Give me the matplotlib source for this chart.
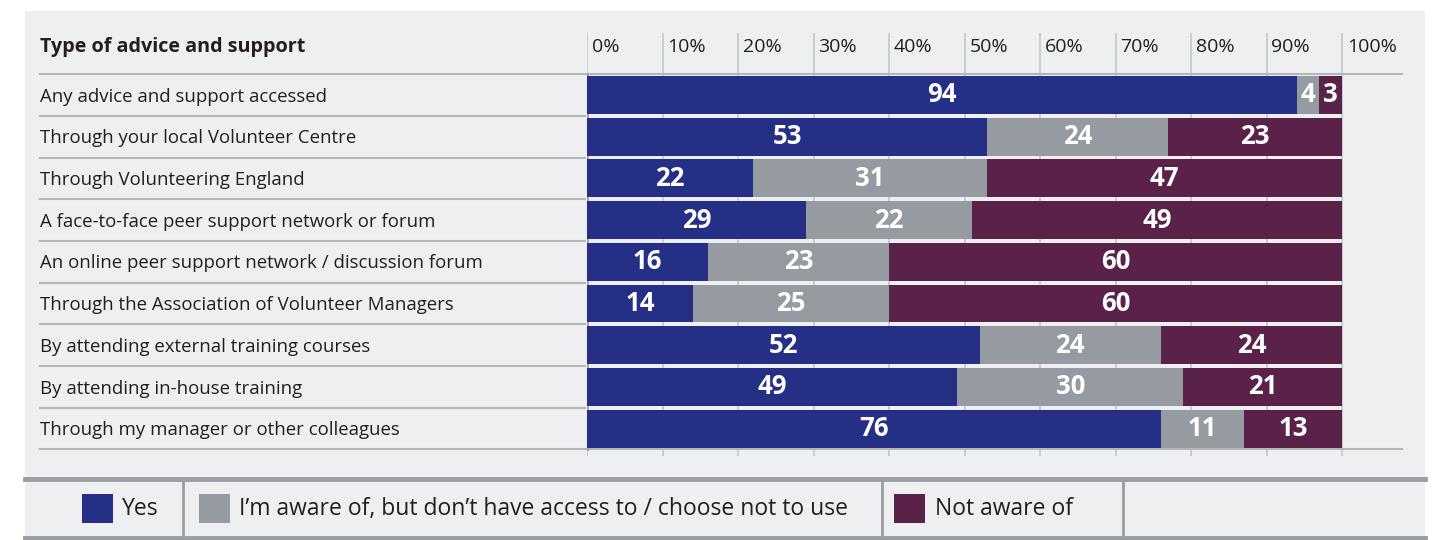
import numpy as np
import matplotlib.pyplot as plt
from matplotlib.patches import Rectangle

plt.rcParams['font.family'] = ['Open Sans', 'DejaVu Sans']

categories = ['Any advice and support accessed',
              'Through your local Volunteer Centre',
              'Through Volunteering England',
              'A face-to-face peer support network or forum',
              'An online peer support network / discussion forum',
              'Through the Association of Volunteer Managers',
              'By attending external training courses',
              'By attending in-house training',
              'Through my manager or other colleagues']
yes = [94, 53, 22, 29, 16, 14, 52, 49, 76]
aware = [4, 24, 31, 22, 23, 25, 24, 30, 11]
not_aware = [3, 23, 47, 49, 60, 60, 24, 21, 13]
series_names = ['Yes', 'I\u2019m aware of, but don\u2019t have access to / choose not to use', 'Not aware of']
ticks = [0, 10, 20, 30, 40, 50, 60, 70, 80, 90, 100]
header = 'Type of advice and support'

col_yes = '#252f85'
col_aware = '#959ba1'
col_not = '#5b2249'
bg = '#eeeff1'
line_col = '#b3b7bb'

W, H = 1433, 540
fig = plt.figure(figsize=(W / 100, H / 100), dpi=100)
fig.patch.set_facecolor('white')

# pixel -> figure coords
def fx(x):
    return x / W

def fy(y):
    return 1 - y / H

# grey panel
fig.patches.append(Rectangle((fx(25), 0), fx(1425) - fx(25), fy(11), transform=fig.transFigure,
                             facecolor=bg, edgecolor='none', zorder=-10))

# axes: 0% at x=587, 100% at x=1342, rows 41.7px tall starting at y=74
ppu = (1342 - 587) / 100
row_h = 41.7
x_right = (1402 - 587) / ppu
y_top = (33 - 95) / row_h
y_bot = (456 - 95) / row_h
ax = fig.add_axes([fx(587), fy(456), fx(1402) - fx(587), fy(33) - fy(456)])
ax.set_xlim(0, x_right)
ax.set_ylim(y_bot, y_top)
ax.set_facecolor('none')
ax.axis('off')

x_lab = (40 - 587) / ppu
y_head = (47 - 95) / row_h

for t in ticks:
    ax.axvline(t, color='#c2c6ca', lw=1.2, zorder=0)
    ax.text(t + 5 / ppu, y_head, '%d%%' % t, ha='left', va='center', fontsize=14, color='#231f20')

ax.text(x_lab, y_head, header, ha='left', va='center', fontsize=14.2, fontweight='bold',
        color='#231f20', clip_on=False)

# row lines
ax.plot([x_lab, x_right], [-0.5, -0.5], color=line_col, lw=1.5, clip_on=False, zorder=1)
ax.plot([x_lab, x_right], [8.5, 8.5], color=line_col, lw=1.5, clip_on=False, zorder=1)
for i in range(1, len(categories)):
    ax.plot([x_lab, -0.3], [i - 0.5, i - 0.5], color=line_col, lw=1.5, clip_on=False, zorder=1)
ax.plot([0, 0], [-0.5, 8.5], color='#9aa0a5', lw=2, zorder=1)

y = np.arange(len(categories))
yes_a = np.array(yes)
not_a = np.array(not_aware)
mid_w = 100 - yes_a - not_a  # middle segment takes the rounding so bars end at 100%
ax.barh(y, yes_a, height=0.91, color=col_yes, zorder=2)
ax.barh(y, mid_w, left=yes_a, height=0.91, color=col_aware, zorder=2)
ax.barh(y, not_a, left=yes_a + mid_w, height=0.91, color=col_not, zorder=2)

for i in range(len(categories)):
    ax.text(x_lab, i + 0.04, categories[i], ha='left', va='center', fontsize=13.4, color='#231f20', clip_on=False)
    ax.text(yes[i] / 2, i, str(yes[i]), ha='center', va='center', color='white',
            fontsize=18.5, fontweight='bold', zorder=3)
    ax.text(yes[i] + mid_w[i] / 2, i, str(aware[i]), ha='center', va='center', color='white',
            fontsize=18.5, fontweight='bold', zorder=3)
    ax.text(yes[i] + mid_w[i] + not_aware[i] / 2, i, str(not_aware[i]), ha='center', va='center', color='white',
            fontsize=18.5, fontweight='bold', zorder=3)

# legend band
band = '#989ea3'
fig.add_artist(plt.Line2D([fx(25), fx(1425)], [fy(478.5), fy(478.5)], transform=fig.transFigure, color=band, lw=3.5))
fig.add_artist(plt.Line2D([fx(25), fx(1425)], [fy(538), fy(538)], transform=fig.transFigure, color=band, lw=3.5))
for xd in [183, 882, 1123]:
    fig.add_artist(plt.Line2D([fx(xd), fx(xd)], [fy(480), fy(537)], transform=fig.transFigure, color=band, lw=2))

leg_cols = [col_yes, col_aware, col_not]
sq_x = [82, 199, 894]
txt_x = [122, 239, 935]
for c, sx, tx, name in zip(leg_cols, sq_x, txt_x, series_names):
    fig.patches.append(Rectangle((fx(sx), fy(523)), fx(31), fy(494) - fy(523), transform=fig.transFigure,
                                 facecolor=c, edgecolor='none'))
    fig.text(fx(tx), fy(509), name, ha='left', va='center', fontsize=16.5, color='#231f20')

fig.savefig('out.png', dpi=100)
